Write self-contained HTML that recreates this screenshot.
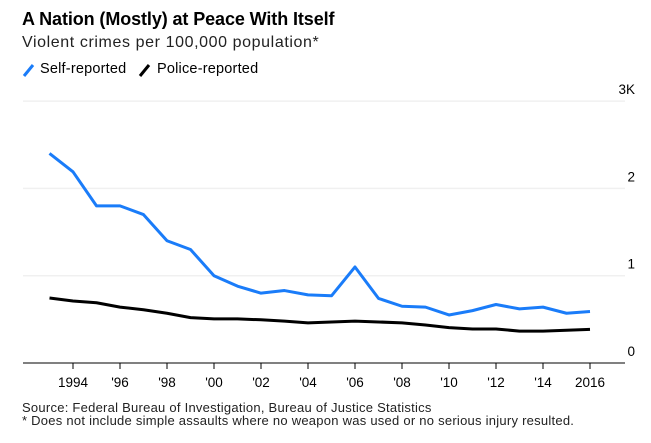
<!DOCTYPE html>
<html><head><meta charset="utf-8"><style>
body{margin:0;width:651px;height:443px;background:#fff;font-family:"Liberation Sans",sans-serif;overflow:hidden;position:relative}
.t{position:absolute;white-space:nowrap;color:#000}
</style></head><body>
<div class="t" style="left:22px;top:9px;font-size:18px;font-weight:bold;letter-spacing:-0.1px">A Nation (Mostly) at Peace With Itself</div>
<div class="t" style="left:22px;top:34px;font-size:16px;letter-spacing:0.6px;color:#222">Violent crimes per 100,000 population*</div>
<div>
<svg class="t" style="left:22px;top:63px" width="14" height="14"><line x1="2" y1="13" x2="11" y2="2" stroke="#1a7cf9" stroke-width="3"/></svg>
<div class="t" style="left:40px;top:61px;font-size:14.5px;letter-spacing:0.2px">Self-reported</div>
<svg class="t" style="left:138px;top:63px" width="14" height="14"><line x1="2" y1="13" x2="11" y2="2" stroke="#000" stroke-width="3"/></svg>
<div class="t" style="left:157px;top:61px;font-size:14.5px;letter-spacing:0.2px">Police-reported</div>
</div>
<svg id="chart" width="651" height="443" style="position:absolute;left:0;top:0"></svg>
<div class="t" style="left:22px;top:400px;font-size:13px;letter-spacing:0.25px;color:#222">Source: Federal Bureau of Investigation, Bureau of Justice Statistics</div>
<div class="t" style="left:22px;top:413px;font-size:13px;letter-spacing:0.25px;color:#222">* Does not include simple assaults where no weapon was used or no serious injury resulted.</div>
<script>
const years=[1993,1994,1995,1996,1997,1998,1999,2000,2001,2002,2003,2004,2005,2006,2007,2008,2009,2010,2011,2012,2013,2014,2015,2016];
const selfReported=[2400,2190,1800,1800,1700,1400,1300,1000,880,800,830,780,770,1100,740,650,640,550,600,670,620,640,570,590];
const policeReported=[745,710,690,640,610,570,520,505,505,495,480,460,470,480,470,460,435,405,390,390,365,365,375,385];
const yTicks=[0,1000,2000,3000];
const yTickLabels=["0","1","2","3K"];
const xTicks=[1994,1996,1998,2000,2002,2004,2006,2008,2010,2012,2014,2016];
const xTickLabels=["1994","'96","'98","'00","'02","'04","'06","'08","'10","'12","'14","2016"];
const NS="http://www.w3.org/2000/svg";
const svg=document.getElementById('chart');
const x=v=>73+(v-1994)*23.5;
const y=v=>363-v*0.0873;
function mk(t,a){const e=document.createElementNS(NS,t);for(const k in a)e.setAttribute(k,a[k]);svg.appendChild(e);return e;}
yTicks.forEach((v,i)=>{
 if(v>0){const g=mk('line',{x1:23,x2:625,y1:y(v),y2:y(v),stroke:'#f0f0f0','stroke-width':1.5});
 
 }
 const t=mk('text',{x:635,y:y(v)-7,'text-anchor':'end','font-size':13.5,'font-family':'Liberation Sans, sans-serif',fill:'#000'});
 t.textContent=yTickLabels[i];
 
 
});
const ax=mk('line',{x1:23,x2:625,y1:363,y2:363,stroke:'#000','stroke-width':1});


xTicks.forEach((v,i)=>{
 const tk=mk('line',{x1:x(v),x2:x(v),y1:363,y2:369,stroke:'#000','stroke-width':1});
 
 
 const t=mk('text',{x:x(v),y:387,'text-anchor':'middle','font-size':13.5,'font-family':'Liberation Sans, sans-serif',fill:'#000'});
 t.textContent=xTickLabels[i];
 
 
});
function line(data,color,name){
 const p=mk('polyline',{points:data.map((v,i)=>x(years[i])+','+y(v)).join(' '),fill:'none',stroke:color,'stroke-width':3,'stroke-linejoin':'round'});
 
 
}
line(policeReported,'#000','police-reported-line');
line(selfReported,'#1a7cf9','self-reported-line');
</script>
</body></html>
